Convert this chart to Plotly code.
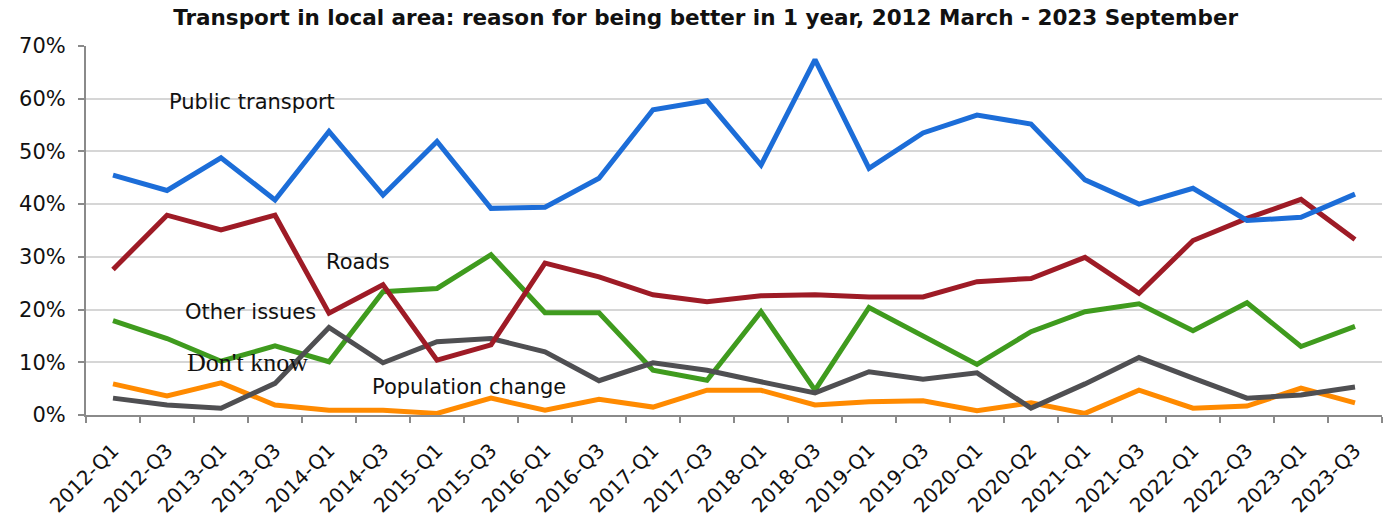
import plotly.graph_objects as go

categories = ["2012-Q1", "2012-Q3", "2013-Q1", "2013-Q3", "2014-Q1", "2014-Q3",
              "2015-Q1", "2015-Q3", "2016-Q1", "2016-Q3", "2017-Q1", "2017-Q3",
              "2018-Q1", "2018-Q3", "2019-Q1", "2019-Q3", "2020-Q1", "2020-Q2",
              "2021-Q1", "2021-Q3", "2022-Q1", "2022-Q3", "2023-Q1", "2023-Q3"]

public_transport = [45.5, 42.6, 48.8, 40.8, 53.8, 41.7, 51.9, 39.2, 39.4, 44.9, 57.9, 59.6,
                    47.4, 67.4, 46.8, 53.5, 56.9, 55.2, 44.6, 40.0, 43.0, 36.9, 37.5, 41.9]
roads = [27.6, 37.9, 35.1, 37.9, 19.3, 24.7, 10.4, 13.3, 28.8, 26.2, 22.8, 21.5,
         22.6, 22.8, 22.4, 22.4, 25.3, 25.9, 29.9, 23.1, 33.1, 37.3, 40.9, 33.3]
other_issues = [17.9, 14.5, 10.2, 13.1, 10.1, 23.4, 24.0, 30.4, 19.4, 19.4, 8.5, 6.6,
                19.6, 4.7, 20.4, 15.0, 9.6, 15.8, 19.6, 21.1, 16.0, 21.3, 13.0, 16.8]
dont_know = [3.2, 1.9, 1.3, 6.0, 16.6, 9.9, 13.9, 14.5, 12.0, 6.5, 9.9, 8.5,
             6.3, 4.2, 8.2, 6.8, 8.0, 1.3, 5.9, 10.9, 7.0, 3.2, 3.8, 5.3]
population_change = [5.9, 3.6, 6.1, 1.9, 0.9, 0.9, 0.3, 3.2, 0.9, 3.0, 1.5, 4.7,
                      4.7, 1.9, 2.5, 2.7, 0.8, 2.3, 0.3, 4.7, 1.3, 1.7, 5.1, 2.3]

series = [
    ("Other issues", other_issues, "#3f9b1e"),
    ("Population change", population_change, "#ff8a00"),
    ("Don't know", dont_know, "#4f4f52"),
    ("Roads", roads, "#9e1b26"),
    ("Public transport", public_transport, "#1c6dd8"),
]

fig = go.Figure()
for name, vals, color in series:
    fig.add_trace(go.Scatter(
        x=categories, y=[v / 100 for v in vals], mode="lines", name=name,
        line=dict(color=color, width=5), showlegend=False,
    ))

label_font = dict(family="DejaVu Sans, Lato, sans-serif", size=21, color="#111111")
labels = [
    ("Public transport", 2.57, 0.594, label_font),
    ("Roads", 4.54, 0.290, label_font),
    ("Other issues", 2.55, 0.195, label_font),
    ("Don't know", 2.49, 0.099, dict(family="Liberation Serif, serif", size=26, color="#111111")),
    ("Population change", 6.59, 0.053, label_font),
]
for text, xi, yv, font in labels:
    fig.add_annotation(x=xi, y=yv, xref="x", yref="y", text=text, showarrow=False,
                       font=font, xanchor="center", yanchor="middle")

fig.update_layout(
    width=1389, height=522,
    margin=dict(l=86, r=7, t=46, b=107),
    paper_bgcolor="white", plot_bgcolor="white",
    title=dict(text="<b>Transport in local area: reason for being better in 1 year, 2012 March - 2023 September</b>",
               x=0.508, xanchor="center", y=0.966, yanchor="middle",
               font=dict(family="DejaVu Sans, sans-serif", size=21.5, color="#111111")),
)
fig.update_xaxes(
    type="category", range=[-0.5, 23.5], tickson="boundaries", automargin=False,
    ticks="outside", ticklen=6, tickcolor="#8a8a8a", tickwidth=1.5,
    showline=True, linecolor="#8a8a8a", linewidth=2, showgrid=False,
    tickangle=-45, ticklabelstandoff=14,
    tickfont=dict(family="DejaVu Sans, sans-serif", size=20, color="#111111"),
)
fig.update_yaxes(
    range=[0, 0.7], dtick=0.1, tickformat=".0%", automargin=False,
    ticks="outside", ticklen=6, tickcolor="#8a8a8a", tickwidth=1.5,
    showline=True, linecolor="#8a8a8a", linewidth=2, ticklabelstandoff=8,
    showgrid=True, gridcolor="#d6d6d6", gridwidth=1.5, zeroline=False,
    tickfont=dict(family="DejaVu Sans, sans-serif", size=21, color="#111111"),
)

fig.write_html("out.html", config={"displayModeBar": False},
               post_script="document.body.style.margin='0';")
